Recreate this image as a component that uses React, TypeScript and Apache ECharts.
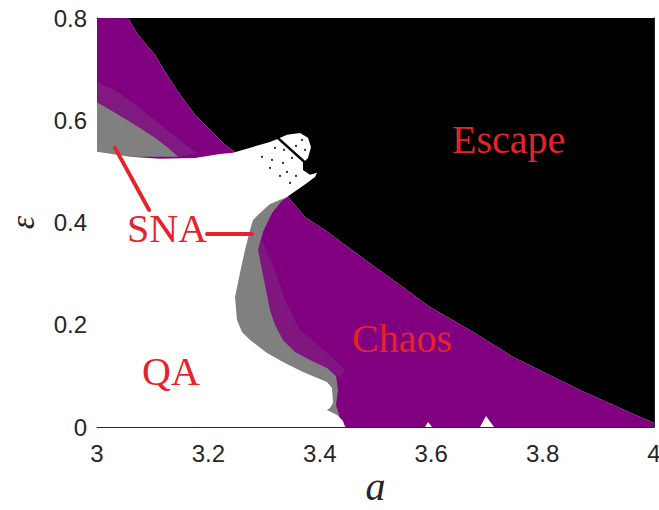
import { useEffect, useRef } from "react";
import * as echarts from "echarts";

type Pt = [number, number];

// Axis ticks
const xTicks = [3, 3.2, 3.4, 3.6, 3.8, 4];
const yTicks = [0, 0.2, 0.4, 0.6, 0.8];

// Boundary between the escape region and the chaotic band (a, epsilon)
const escapeBoundary: Pt[] = [
  [3.0557, 0.8], [3.0736, 0.7671], [3.1041, 0.728], [3.1221, 0.6947],
  [3.1454, 0.6556], [3.1759, 0.6106], [3.2065, 0.5773], [3.2298, 0.5519],
  [3.2424, 0.5421], [3.2926, 0.499], [3.3429, 0.4501], [3.3734, 0.411],
  [3.4093, 0.3855], [3.4722, 0.3346], [3.544, 0.2779], [3.5978, 0.2348],
  [3.6697, 0.1898], [3.7469, 0.137], [3.8671, 0.0724], [3.939, 0.0372],
  [4.0, 0.0078],
];

// Strange non-chaotic attractor zones
const snaUpperDense: Pt[] = [
  [3, 0.635], [3.0323, 0.6145], [3.0682, 0.591], [3.1041, 0.5656],
  [3.1275, 0.546], [3.1454, 0.5284], [3, 0.5284],
];
const snaUpperSparse: Pt[] = [
  [3, 0.675], [3.03, 0.66], [3.07, 0.63], [3.11, 0.595], [3.15, 0.56],
  [3.18, 0.535], [3.145, 0.528], [3.1275, 0.546], [3.1041, 0.5656],
  [3.0682, 0.591], [3.0323, 0.6145], [3, 0.635],
];
const snaBand: Pt[] = [
  [3.3429, 0.4501], [3.3321, 0.4423], [3.3142, 0.4188], [3.298, 0.3816],
  [3.2891, 0.3464], [3.2962, 0.3072], [3.3034, 0.2681], [3.3106, 0.229],
  [3.3196, 0.1996], [3.3339, 0.1703], [3.3555, 0.1468], [3.3824, 0.1311],
  [3.4129, 0.1155], [3.4291, 0.0998], [3.4327, 0.0724], [3.4291, 0.0431],
  [3.4363, 0.0176], [3.447, 0], [3.2388, 0], [3.2388, 0.2485],
  [3.2657, 0.4051], [3.3106, 0.4442],
];
const snaBandSparse: Pt[] = [
  [3.2962, 0.3659], [3.3196, 0.3072], [3.3375, 0.2485], [3.3645, 0.1898],
  [3.4183, 0.1409], [3.4452, 0.1115], [3.4363, 0.0959], [3.4129, 0.1155],
  [3.3824, 0.1311], [3.3555, 0.1468], [3.3339, 0.1703], [3.3196, 0.1996],
  [3.3106, 0.229], [3.3034, 0.2681], [3.2962, 0.3072], [3.2891, 0.3464],
];

// Quasiperiodic attractor (QA) zone
const qaRegion: Pt[] = [
  [3, 0.5382], [3.0592, 0.5284], [3.1131, 0.5245], [3.1759, 0.5264],
  [3.2208, 0.5342], [3.2442, 0.5362], [3.2801, 0.5479], [3.3106, 0.5577],
  [3.325, 0.5636], [3.3411, 0.5714], [3.3645, 0.5753], [3.3788, 0.5656],
  [3.3842, 0.5479], [3.3788, 0.5264], [3.3698, 0.5166], [3.3698, 0.5029],
  [3.3824, 0.4932], [3.395, 0.4971], [3.3914, 0.4892], [3.377, 0.4775],
  [3.3591, 0.4638], [3.3411, 0.4501], [3.3106, 0.4364], [3.2926, 0.4188],
  [3.2801, 0.4051], [3.2747, 0.3855], [3.2657, 0.3464], [3.2567, 0.3014],
  [3.2478, 0.2544], [3.2513, 0.2094], [3.2603, 0.1859], [3.2747, 0.1703],
  [3.3052, 0.1448], [3.3339, 0.1272], [3.3698, 0.1076], [3.4129, 0.0881],
  [3.4219, 0.0763], [3.4237, 0.047], [3.4183, 0.0372], [3.4129, 0.0333],
  [3.4309, 0.0235], [3.4417, 0.0117], [3.4452, 0], [3, 0],
];
const qaNotchA: Pt[] = [[3.5889, 0], [3.5943, 0.0098], [3.6014, 0]];
const qaNotchB: Pt[] = [[3.6876, 0], [3.6984, 0.0215], [3.7128, 0]];

// Escaping orbits scattered inside the QA tongue
const escapeDots: Pt[] = [
  [3.2962, 0.5284], [3.3142, 0.5225], [3.3196, 0.546], [3.3339, 0.5166],
  [3.3411, 0.499], [3.3501, 0.5264], [3.3573, 0.4912], [3.3465, 0.4775],
  [3.3285, 0.4912], [3.3573, 0.5499], [3.368, 0.5616], [3.3734, 0.5421],
  [3.3106, 0.5068], [3.3357, 0.5421],
];
const escapeStreak: Pt[] = [[3.325, 0.565], [3.376, 0.515]];

// Annotation pointers and labels
const snaPointerUpper: Pt[] = [[3.0323, 0.546], [3.0934, 0.4247]];
const snaPointerLower: Pt[] = [[3.1975, 0.3777], [3.2783, 0.3777]];
const regionLabels: { text: string; at: Pt }[] = [
  { text: "Escape", at: [3.6373, 0.5617] },
  { text: "SNA", at: [3.0539, 0.3875] },
  { text: "Chaos", at: [3.4578, 0.1723] },
  { text: "QA", at: [3.0808, 0.1077] },
];

const PURPLE = "#800080";
const GRAY = "#808080";
const RED = "#e5232a";
const AXIS = "#262626";

function region(name: string, pts: Pt[], fill: string, z: number, opacity = 1) {
  return {
    type: "custom",
    name,
    data: pts,
    encode: { x: 0, y: 1 },
    z,
    silent: true,
    renderItem: (params: any, api: any) => {
      if (params.dataIndex !== 0) return null;
      const points = pts.map((p) => api.coord(p));
      return { type: "polygon", shape: { points }, style: { fill, opacity } };
    },
  };
}

function pointer(pts: Pt[]) {
  return {
    type: "line",
    data: pts,
    z: 20,
    symbol: "none",
    silent: true,
    lineStyle: { color: RED, width: 4, cap: "round" },
  };
}

export default function App() {
  const ref = useRef<HTMLDivElement>(null);
  useEffect(() => {
    document.body.style.margin = "0";
    const chart = echarts.init(ref.current!, undefined, { renderer: "svg" });
    const frameAxis = {
      type: "value",
      axisLine: { show: true, onZero: false, lineStyle: { color: AXIS, width: 1 } },
      axisTick: { show: true, inside: true, length: 6, lineStyle: { color: AXIS } },
      splitLine: { show: false },
    };
    chart.setOption({
      animation: false,
      backgroundColor: "#ffffff",
      grid: { left: 97, right: 5, top: 18, bottom: 83, outerBoundsMode: "none" },
      xAxis: [
        {
          ...frameAxis,
          position: "bottom",
          min: xTicks[0],
          max: xTicks[xTicks.length - 1],
          interval: 0.2,
          axisLabel: { fontSize: 24, color: AXIS, fontFamily: "Liberation Sans", margin: 14 },
          name: "a",
          nameLocation: "middle",
          nameMoveOverlap: false,
          nameGap: 44,
          nameTextStyle: {
            fontFamily: "Liberation Serif",
            fontStyle: "italic",
            fontSize: 40,
            lineHeight: 30,
            color: AXIS,
          },
        },
        {
          ...frameAxis,
          position: "top",
          min: xTicks[0],
          max: xTicks[xTicks.length - 1],
          interval: 0.2,
          axisLabel: { show: false },
        },
      ],
      yAxis: [
        {
          ...frameAxis,
          position: "left",
          min: yTicks[0],
          max: yTicks[yTicks.length - 1],
          interval: 0.2,
          axisLabel: { fontSize: 24, color: AXIS, fontFamily: "Liberation Sans", margin: 10 },
          name: "ε",
          nameLocation: "middle",
          nameRotate: 90,
          nameGap: 58,
          nameTextStyle: {
            fontFamily: "Liberation Serif",
            fontStyle: "italic",
            fontSize: 34,
            lineHeight: 34,
            color: AXIS,
          },
        },
        {
          ...frameAxis,
          position: "right",
          min: yTicks[0],
          max: yTicks[yTicks.length - 1],
          interval: 0.2,
          axisLabel: { show: false },
        },
      ],
      series: [
        region("escape", [...escapeBoundary, [4, 0.8]], "#000000", 1),
        region("chaos", [[3, 0.8], ...escapeBoundary, [4, 0], [3, 0]], PURPLE, 2),
        region("sna-sparse-upper", snaUpperSparse, GRAY, 3, 0.2),
        region("sna-upper", snaUpperDense, GRAY, 4),
        region("sna-sparse-band", snaBandSparse, GRAY, 3, 0.18),
        region("sna-band", snaBand, GRAY, 4),
        region("qa", qaRegion, "#ffffff", 5),
        region("qa-notch-a", qaNotchA, "#ffffff", 5),
        region("qa-notch-b", qaNotchB, "#ffffff", 5),
        {
          type: "scatter",
          data: escapeDots,
          z: 6,
          silent: true,
          symbol: "rect",
          symbolSize: 2,
          itemStyle: { color: "#000000" },
        },
        {
          type: "line",
          data: escapeStreak,
          z: 6,
          symbol: "none",
          silent: true,
          lineStyle: { color: "#000000", width: 2.5 },
        },
        pointer(snaPointerUpper),
        pointer(snaPointerLower),
        {
          type: "custom",
          data: regionLabels.map((l) => l.at),
          encode: { x: 0, y: 1 },
          z: 21,
          silent: true,
          renderItem: (params: any, api: any) => {
            const lab = regionLabels[params.dataIndex];
            const [x, y] = api.coord(lab.at);
            return {
              type: "text",
              x,
              y,
              style: {
                text: lab.text,
                fill: RED,
                font: "40px 'Liberation Serif'",
                align: "left",
                verticalAlign: "middle",
              },
            };
          },
        },
      ],
    });
    return () => chart.dispose();
  }, []);
  return <div ref={ref} style={{ width: 659, height: 510 }} />;
}
